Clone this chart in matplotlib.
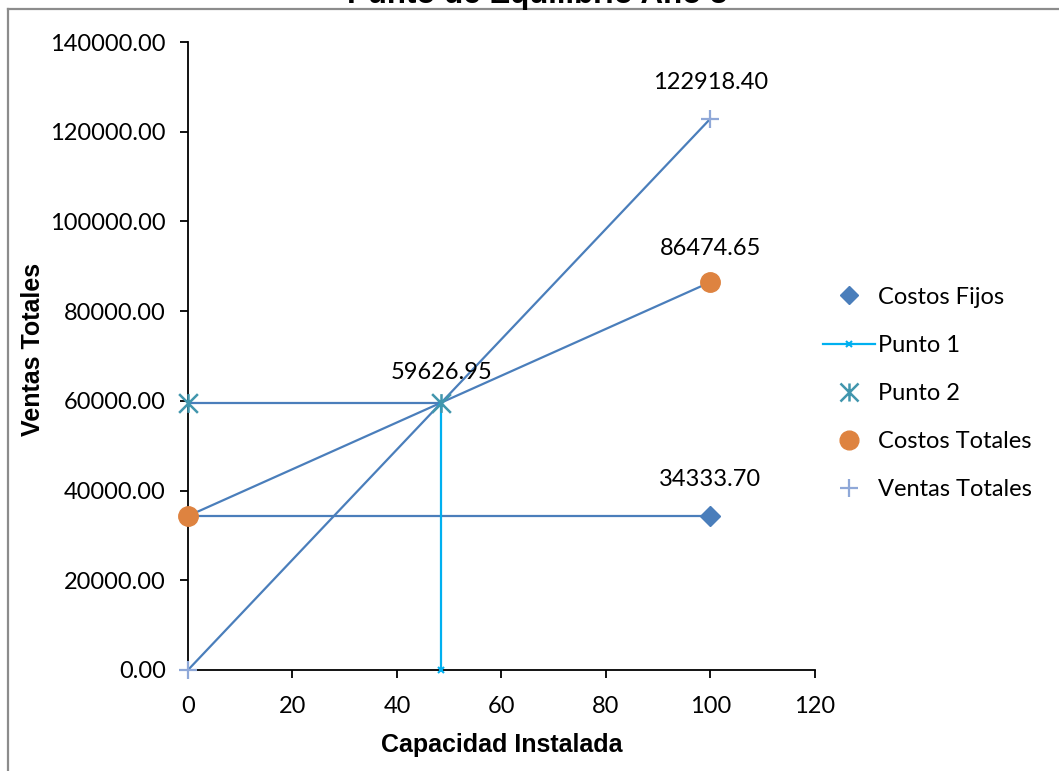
import matplotlib
matplotlib.use("Agg")
import matplotlib.pyplot as plt
from matplotlib.path import Path
from matplotlib.lines import Line2D

# Break-even data (capacity % vs. money)
capacity_end = [0, 100]
costos_fijos = [34333.70, 34333.70]
costos_totales = [34333.70, 86474.65]
ventas_totales = [0.00, 122918.40]
equilibrio_x = 48.51
equilibrio_y = 59626.95
punto1_x = [equilibrio_x, equilibrio_x]
punto1_y = [0.00, equilibrio_y]
punto2_x = [0, equilibrio_x]
punto2_y = [equilibrio_y, equilibrio_y]

x_ticks = [0, 20, 40, 60, 80, 100, 120]
y_ticks = [0, 20000, 40000, 60000, 80000, 100000, 120000, 140000]

BLUE = "#4A7EBB"
ORANGE = "#DE8340"
TEAL = "#4196AD"
LIGHT = "#8FA8D8"
CYAN = "#00B0F0"

FS = 17
plt.rcParams["font.family"] = ["Lato", "DejaVu Sans"]
BOLD_FAMILY = ["Liberation Sans Narrow", "Liberation Sans", "DejaVu Sans"]

# Star marker: an X crossed with a vertical bar
star = Path([(0, -0.5), (0, 0.5), (-0.5, -0.5), (0.5, 0.5), (-0.5, 0.5), (0.5, -0.5)],
            [Path.MOVETO, Path.LINETO, Path.MOVETO, Path.LINETO, Path.MOVETO, Path.LINETO])

fig = plt.figure(figsize=(10.59, 7.71), dpi=100)
ax = fig.add_axes([0.1775, 0.131, 0.592, 0.8145])

# connecting lines
ax.plot(capacity_end, costos_fijos, color=BLUE, lw=1.6, zorder=2)
ax.plot(capacity_end, costos_totales, color=BLUE, lw=1.6, zorder=2)
ax.plot(capacity_end, ventas_totales, color=BLUE, lw=1.6, zorder=2)
ax.plot(punto2_x, punto2_y, color=BLUE, lw=1.6, zorder=2)
ax.plot(punto1_x, punto1_y, color=CYAN, lw=1.6, marker="x", ms=5, mew=1.5,
        zorder=3)

# markers
ax.plot(capacity_end[1:], costos_fijos[1:], ls="none", marker="D", ms=10,
        color=BLUE, zorder=4)
ax.plot(punto2_x, punto2_y, ls="none", marker=star, ms=13.5, mew=1.8,
        color=TEAL, zorder=4)
ax.plot(capacity_end, costos_totales, ls="none", marker="o", ms=14,
        color=ORANGE, zorder=5)
ax.plot(capacity_end, ventas_totales, ls="none", marker="+", ms=13, mew=1.6,
        color=LIGHT, zorder=4)

# value labels
lab_kw = dict(ha="center", va="center", fontsize=FS, color="black",
              textcoords="offset points")
ax.annotate(f"{ventas_totales[1]:.2f}", (capacity_end[1], ventas_totales[1]),
            xytext=(0, 26), **lab_kw)
ax.annotate(f"{costos_totales[1]:.2f}", (capacity_end[1], costos_totales[1]),
            xytext=(0, 24.5), **lab_kw)
ax.annotate(f"{costos_fijos[1]:.2f}", (capacity_end[1], costos_fijos[1]),
            xytext=(0, 26), **lab_kw)
ax.annotate(f"{equilibrio_y:.2f}", (equilibrio_x, equilibrio_y),
            xytext=(0, 21.5), **lab_kw)

ax.set_xlim(0, 120)
ax.set_ylim(0, 140000)
ax.set_xticks(x_ticks)
ax.set_yticks(y_ticks)
ax.set_yticklabels([f"{v:.2f}" for v in y_ticks])
ax.tick_params(axis="both", labelsize=FS, direction="out", length=6, width=1.3,
               colors="black")
ax.tick_params(axis="y", pad=10)
ax.tick_params(axis="x", pad=13)
for s in ("top", "right"):
    ax.spines[s].set_visible(False)
for s in ("left", "bottom"):
    ax.spines[s].set_linewidth(1.3)
for ln in ax.lines:
    ln.set_clip_on(False)

ax.set_xlabel("Capacidad Instalada", fontsize=18, fontweight="bold",
              family=BOLD_FAMILY, va="center")
ax.set_ylabel("Ventas Totales", fontsize=18, fontweight="bold",
              family=BOLD_FAMILY, va="center")
ax.xaxis.set_label_coords(0.5, -0.1194)
ax.yaxis.set_label_coords(-0.247, 0.51)

# legend
handles = [
    Line2D([], [], ls="none", marker="D", ms=9.5, color=BLUE),
    Line2D([], [], color=CYAN, lw=1.6, marker="x", ms=5, mew=1.5),
    Line2D([], [], ls="none", marker=star, ms=13, mew=1.8, color=TEAL),
    Line2D([], [], ls="none", marker="o", ms=13.5, color=ORANGE),
    Line2D([], [], ls="none", marker="+", ms=13, mew=1.6, color=LIGHT),
]
names = ["Costos Fijos", "Punto 1", "Punto 2", "Costos Totales", "Ventas Totales"]
fig.legend(handles, names, loc="center left", bbox_to_anchor=(0.777, 0.4896),
           frameon=False, fontsize=FS, labelspacing=1.15, handlelength=2.2,
           handletextpad=0.15, borderpad=0, borderaxespad=0)

# chart title (partly outside the chart area)
fig.text(0.507, 0.9962, "Punto de Equilibrio Año 5", ha="center", va="baseline",
         fontsize=22.5, fontweight="bold", family=["Liberation Sans", "DejaVu Sans"])

# chart area border
fig.add_artist(Line2D([0.0075, 0.0075], [0.0, 0.9885], transform=fig.transFigure,
                      color="#8C8C8C", lw=1.6))
fig.add_artist(Line2D([0.0075, 1.0], [0.9885, 0.9885], transform=fig.transFigure,
                      color="#8C8C8C", lw=1.6))

fig.savefig("out.png", dpi=100)
